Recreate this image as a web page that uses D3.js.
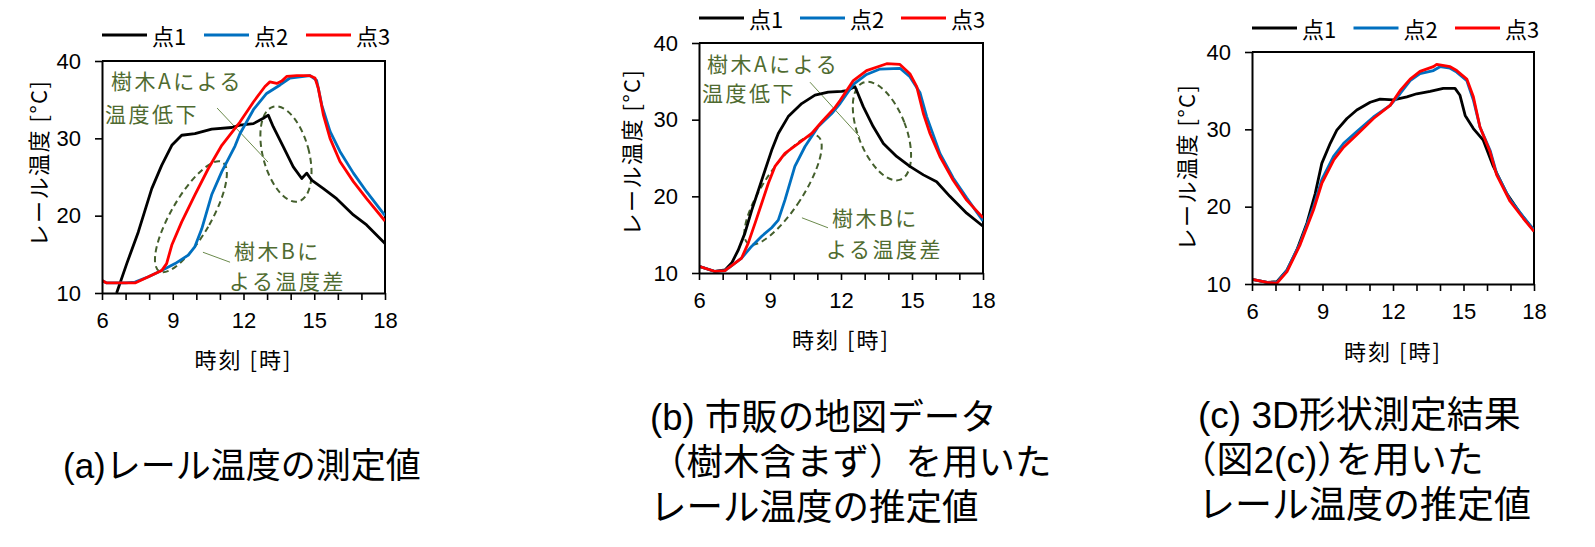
<!DOCTYPE html>
<html><head><meta charset="utf-8">
<script src="https://cdn.jsdelivr.net/npm/d3@7"></script>
<style>body{margin:0;background:#fff}svg{display:block}</style>
</head><body>
<svg id="chart" width="1595" height="547"></svg>
<script>
// ---------- data ----------
const seriesNames = ["点1", "点2", "点3"];
const seriesColors = ["#000000", "#0070C0", "#FF0000"];
const hourTicks = [6,7,8,9,10,11,12,13,14,15,16,17,18];
const xTickLabels = [6, 9, 12, 15, 18];
const yTickLabels = [10, 20, 30, 40];
const xDomain = [6, 18];
const yDomain = [10, 40];

// (a) measured
const aPoint1 = [[6.62,10],[7.05,13.8],[7.54,17.9],[8.11,23.5],[8.53,26.5],[8.96,29.1],[9.38,30.4],[9.94,30.6],[10.65,31.2],[11.5,31.4],[11.85,31.7],[12.42,31.9],[12.84,32.6],[13.05,33.0],[13.26,31.5],[13.69,28.9],[14.11,26.3],[14.47,24.8],[14.68,25.5],[14.89,24.6],[15.39,23.5],[15.95,22.2],[16.66,20.1],[17.22,18.8],[18,16.4]];
const aPoint2 = [[6,11.6],[6.2,11.3],[7.0,11.3],[7.4,11.4],[7.97,12.1],[8.53,12.9],[9.1,13.8],[9.66,14.9],[9.94,16.0],[10.23,18.3],[10.65,22.7],[11.08,25.7],[11.64,29.0],[11.85,30.6],[12.42,33.7],[12.98,35.8],[13.55,36.9],[13.97,37.8],[14.82,38.1],[15.1,37.5],[15.32,34.3],[15.67,30.9],[16.09,28.3],[16.66,25.5],[17.22,23.1],[18,20.0]];
const aPoint3 = [[6,11.6],[6.2,11.3],[7.4,11.3],[7.97,12.1],[8.53,12.9],[8.74,13.8],[8.96,16.2],[9.38,19.2],[9.94,22.7],[10.51,26.1],[11.08,29.1],[11.64,31.3],[11.85,32.1],[12.42,34.7],[12.91,36.7],[13.12,37.3],[13.41,37.1],[13.62,37.4],[13.83,38.0],[14.26,38.1],[14.82,38.1],[15.03,37.8],[15.17,36.5],[15.39,33.0],[15.67,30.0],[16.09,27.0],[16.66,24.4],[17.22,22.2],[18,19.3]];

// (b) estimated with commercial map data
const bPoint1 = [[6,10.86],[6.68,10.2],[7.1,10.4],[7.38,11.3],[7.66,13.0],[7.94,15.2],[8.23,18.2],[8.51,20.8],[8.79,23.4],[9.07,26.0],[9.35,28.2],[9.77,30.4],[10.34,32.1],[10.9,33.2],[11.46,33.6],[12.03,33.7],[12.24,33.8],[12.59,34.3],[12.66,33.8],[12.94,31.7],[13.36,29.1],[13.79,26.9],[14.35,25.2],[14.91,23.9],[15.48,22.8],[16.04,21.9],[16.6,20.0],[17.31,17.8],[18,16.1]];
const bPoint2 = [[6,10.86],[6.68,10.2],[7.1,10.3],[7.24,10.65],[7.8,11.95],[8.23,13.5],[8.65,14.8],[9.07,15.9],[9.35,16.9],[9.63,19.5],[10.05,23.9],[10.48,26.5],[11.04,29.1],[11.61,30.8],[11.96,32.1],[12.52,34.6],[13.08,35.9],[13.65,36.6],[14.49,36.7],[14.91,35.6],[15.34,33.5],[15.62,30.4],[16.18,25.6],[16.74,22.4],[17.31,19.8],[18,16.8]];
const bPoint3 = [[6,10.86],[6.68,10.2],[7.1,10.3],[7.24,10.65],[7.8,11.95],[8.08,13.9],[8.37,16.5],[8.65,19.1],[8.93,21.7],[9.21,23.9],[9.63,25.6],[10.2,26.9],[10.76,28.2],[11.18,29.7],[11.75,31.6],[11.96,32.5],[12.52,35.1],[13.08,36.4],[13.65,37.0],[13.93,37.3],[14.49,37.2],[14.91,36.0],[15.2,34.3],[15.48,30.8],[15.76,28.2],[16.18,25.2],[16.74,22.1],[17.31,19.5],[18,17.2]];

// (c) estimated with 3D shape measurement
const cPoint1 = [[6,10.6],[6.64,10.2],[7.06,10.3],[7.49,11.8],[7.91,14.4],[8.34,17.9],[8.69,21.7],[8.97,25.6],[9.33,28.2],[9.61,29.9],[10.04,31.4],[10.46,32.5],[11.03,33.5],[11.45,33.9],[12.02,33.8],[12.59,34.2],[13.01,34.6],[13.58,34.9],[14.14,35.3],[14.64,35.3],[14.85,34.4],[15.07,31.8],[15.42,30.1],[15.84,28.6],[16.27,25.2],[16.84,21.7],[17.4,19.2],[18,16.9]];
const cPoint2 = [[6,10.6],[6.64,10.2],[7.06,10.2],[7.49,11.8],[8.05,15.3],[8.62,20.0],[8.97,23.5],[9.47,26.5],[9.9,28.2],[10.46,29.7],[11.17,31.6],[11.88,33.1],[12.3,34.6],[12.73,36.3],[13.15,37.2],[13.72,37.6],[14.0,38.1],[14.43,37.9],[14.71,37.4],[15.14,36.3],[15.42,33.8],[15.7,30.3],[16.13,27.3],[16.41,24.3],[16.98,20.9],[17.54,18.7],[18,17.0]];
const cPoint3 = [[6,10.6],[6.64,10.2],[7.06,10.1],[7.49,11.6],[8.05,15.1],[8.62,19.6],[8.97,23.0],[9.47,26.0],[9.9,27.7],[10.46,29.3],[11.17,31.4],[11.88,33.1],[12.3,35.0],[12.73,36.5],[13.15,37.5],[13.72,38.1],[13.86,38.4],[14.43,38.1],[14.71,37.6],[15.14,36.5],[15.42,34.2],[15.7,30.3],[16.13,27.1],[16.41,24.1],[16.98,20.7],[17.54,18.5],[18,16.8]];

const captionA = ["(a)レール温度の測定値"];
const captionB = ["(b) 市販の地図データ", "（樹木含まず）を用いた", "レール温度の推定値"];
const captionC = ["(c) 3D形状測定結果", "（図2(c)）を用いた", "レール温度の推定値"];
const xTitle = "時刻 [時]";
const yTitle = "レール温度 [°C]";
const noteA = ["樹木Aによる", "温度低下"];
const noteB = ["樹木Bに", "よる温度差"];

// ---------- layout ----------
const GREEN = "#4f6b30";
const JP = "'Noto Sans CJK JP', 'Noto Sans', sans-serif";
const CAP = "'Liberation Sans', 'Noto Sans CJK JP', sans-serif";
const NUM = "'Liberation Sans', Arial, sans-serif";

const charts = [
  { series: [aPoint1, aPoint2, aPoint3], box: {x0:102, x1:385, y0:61, y1:293},
    legendY: 35, legendStep: 102, xTitleY: 358, yTitleX: 37, yTitleY: 163,
    caption: captionA, capX: 63, capY: 465, capSize: 35, capHalt: [],
    notes: {
      texts: [[noteA[0], 6.38, 37.56], [noteA[1], 6.13, 33.28], [noteB[0], 11.6, 15.53], [noteB[1], 11.39, 11.65]],
      leaders: [[10.88, 33.92, 13.04, 26.93], [10.28, 15.27, 11.43, 13.98]],
      ellipses: [{h:13.8, t:27.97, rx:23, ry:49, rot:-15}, {h:9.77, t:19.87, rx:20, ry:63, rot:30}]
    } },
  { series: [bPoint1, bPoint2, bPoint3], box: {x0:699, x1:983, y0:43, y1:273},
    legendY: 18, legendStep: 101, xTitleY: 338, yTitleX: 630, yTitleY: 152,
    caption: captionB, capX: 650, capY: 417, capSize: 36.5, capHalt: [],
    notes: {
      texts: [[noteA[0], 6.34, 37.36], [noteA[1], 6.13, 33.6], [noteB[0], 11.62, 17.33], [noteB[1], 11.37, 13.29]],
      leaders: [[10.69, 34.89, 12.8, 27.73], [10.35, 17.2, 11.45, 15.9]],
      ellipses: [{h:13.73, t:28.51, rx:24, ry:52, rot:-21}, {h:9.55, t:20.84, rx:20, ry:64, rot:33}]
    } },
  { series: [cPoint1, cPoint2, cPoint3], box: {x0:1252, x1:1534, y0:52, y1:284},
    legendY: 28, legendStep: 101.5, xTitleY: 350, yTitleX: 1185, yTitleY: 167,
    caption: captionC, capX: 1198, capY: 415, capSize: 37, capHalt: [1],
    notes: null }
];

const svg = d3.select("#chart");

charts.forEach((c, ci) => {
  const b = c.box;
  const x = d3.scaleLinear().domain(xDomain).range([b.x0, b.x1]);
  const y = d3.scaleLinear().domain(yDomain).range([b.y1, b.y0]);
  const g = svg.append("g");

  const clipId = "clip" + ci;
  svg.append("clipPath").attr("id", clipId).append("rect")
    .attr("x", b.x0).attr("y", b.y0).attr("width", b.x1 - b.x0).attr("height", b.y1 - b.y0);

  // border top/right
  g.append("path")
    .attr("d", `M${b.x0},${b.y0}H${b.x1}V${b.y1}`)
    .attr("fill", "none").attr("stroke", "#000").attr("stroke-width", 2);

  // annotations (under lines)
  if (c.notes) {
    const n = c.notes;
    n.ellipses.forEach(e => {
      g.append("ellipse")
        .attr("cx", 0).attr("cy", 0).attr("rx", e.rx).attr("ry", e.ry)
        .attr("transform", `translate(${x(e.h)},${y(e.t)}) rotate(${e.rot})`)
        .attr("fill", "none").attr("stroke", "#445f2c").attr("stroke-width", 2)
        .attr("stroke-dasharray", "6,4");
    });
    n.leaders.forEach(l => {
      g.append("line")
        .attr("x1", x(l[0])).attr("y1", y(l[1])).attr("x2", x(l[2])).attr("y2", y(l[3]))
        .attr("stroke", "#6b8a4c").attr("stroke-width", 1);
    });
  }

  // series lines
  const line = d3.line().x(d => x(d[0])).y(d => y(d[1]));
  c.series.forEach((s, si) => {
    g.append("path").datum(s)
      .attr("d", line)
      .attr("clip-path", `url(#${clipId})`)
      .attr("fill", "none").attr("stroke", seriesColors[si])
      .attr("stroke-width", 2.8).attr("stroke-linejoin", "round");
  });

  if (c.notes) {
    c.notes.texts.forEach(t => {
      g.append("text")
        .attr("x", x(t[1])).attr("y", y(t[2]))
        .attr("dominant-baseline", "central")
        .attr("font-family", JP).attr("font-size", 21)
        .attr("letter-spacing", 2.5)
        .attr("fill", GREEN).text(t[0]);
    });
  }

  // axes
  const xAxis = d3.axisBottom(x).tickValues(hourTicks).tickSizeInner(7).tickSizeOuter(0)
    .tickPadding(12).tickFormat(d => xTickLabels.includes(d) ? d : "");
  const yAxis = d3.axisLeft(y).tickValues(yTickLabels).tickSizeInner(7).tickSizeOuter(0)
    .tickPadding(14).tickFormat(d => d);
  const gx = g.append("g").attr("transform", `translate(0,${b.y1})`).call(xAxis);
  const gy = g.append("g").attr("transform", `translate(${b.x0},0)`).call(yAxis);
  [gx, gy].forEach(a => {
    a.select(".domain").attr("stroke", "#000").attr("stroke-width", 2);
    a.selectAll(".tick line").attr("stroke", "#000").attr("stroke-width", 1.6);
    a.selectAll(".tick text").attr("font-family", NUM).attr("font-size", 22).attr("fill", "#000");
  });

  // axis titles
  g.append("text")
    .attr("x", (b.x0 + b.x1) / 2).attr("y", c.xTitleY)
    .attr("text-anchor", "middle").attr("dominant-baseline", "central")
    .attr("font-family", JP).attr("font-size", 22).attr("letter-spacing", 2).text(xTitle);
  g.append("text")
    .attr("transform", `translate(${c.yTitleX},${c.yTitleY}) rotate(-90)`)
    .attr("text-anchor", "middle").attr("dominant-baseline", "central")
    .attr("font-family", JP).attr("font-size", 22).attr("letter-spacing", 1.5).text(yTitle);

  // legend
  seriesNames.forEach((name, si) => {
    const lx = b.x0 + si * c.legendStep;
    g.append("line")
      .attr("x1", lx).attr("x2", lx + 45).attr("y1", c.legendY).attr("y2", c.legendY)
      .attr("stroke", seriesColors[si]).attr("stroke-width", 3);
    g.append("text")
      .attr("x", lx + 50).attr("y", c.legendY)
      .attr("dominant-baseline", "central")
      .attr("font-family", JP).attr("font-size", 22).text(name);
  });

  // caption (one multi-line text element)
  const cap = g.append("text")
    .attr("font-family", CAP).attr("font-size", c.capSize).attr("fill", "#000");
  c.caption.forEach((ln, li) => {
    const ts = cap.append("tspan")
      .attr("x", c.capX).attr("y", c.capY + li * 45 + 0.36 * c.capSize).text(ln);
    if (c.capHalt.includes(li)) ts.style("font-feature-settings", "'halt' 1");
  });
});
</script>
</body></html>
